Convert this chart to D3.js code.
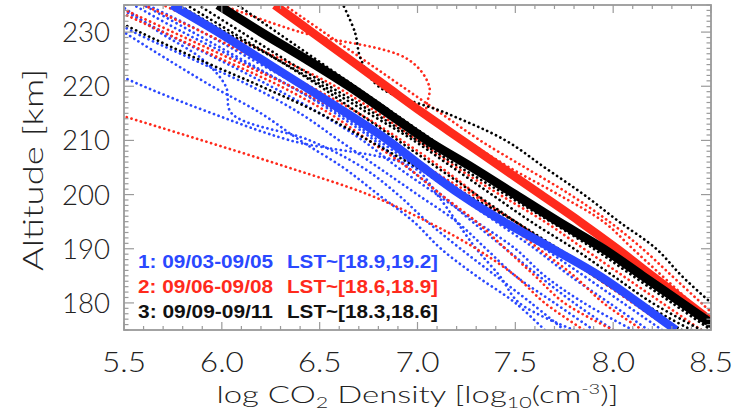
<!DOCTYPE html>
<html><head><meta charset="utf-8">
<script src="https://cdnjs.cloudflare.com/ajax/libs/d3/7.8.5/d3.min.js"></script>
<style>body{margin:0;background:#fff}svg{display:block}</style>
</head><body><svg id="c" width="733" height="417"></svg>
<script>
// ---- data ----
const altitudes = [175,180,185,190,195,200,205,210,215,220,225,230,235];
const xTicks = [5.5,6.0,6.5,7.0,7.5,8.0,8.5];
const yTicks = [180,190,200,210,220,230];
// mean profiles (log10 density at each altitude)
const blueMean  = [8.32,8.13,7.93,7.69,7.44,7.22,7.03,6.85,6.64,6.42,6.20,5.98,5.745];
const redMean   = [8.56,8.38,8.20,8.02,7.83,7.63,7.43,7.23,7.03,6.84,6.65,6.46,6.27];
const blackMean = [8.55,8.35,8.15,7.95,7.72,7.50,7.28,7.05,6.85,6.65,6.43,6.20,5.98];
// individual orbit profiles
const blueOrbits = [
  [7.80,7.52,7.42,7.30,7.20,7.10,6.98,6.35,5.95,5.60,5.30,5.05,4.85],
  [7.90,7.70,7.50,7.35,7.20,7.00,6.80,6.60,6.40,6.15,5.85,5.55,5.30],
  [8.10,7.85,7.65,7.50,7.30,7.10,6.90,6.72,6.50,6.25,5.98,5.70,5.45],
  [8.25,8.05,7.85,7.65,7.45,7.25,7.05,6.85,6.62,6.40,6.15,5.90,5.62],
  [7.75,7.58,7.40,7.22,7.05,6.90,6.72,6.45,6.05,6.02,5.90,5.68,5.48],
  [8.00,7.80,7.62,7.45,7.28,7.12,6.95,6.78,6.58,6.35,6.08,5.80,5.55],
  [8.18,7.98,7.78,7.60,7.40,7.20,7.00,6.80,6.60,6.35,6.10,5.85,5.60],
  [7.65,7.50,7.30,7.12,6.98,6.80,6.62,6.40,6.20,5.95,5.72,5.50,5.30]
];
const redOrbits = [
  [7.85,7.65,7.50,7.30,7.05,6.75,6.34,5.90,5.45,5.00,4.60,4.30,4.00],
  [8.55,8.40,8.25,8.10,7.95,7.72,7.47,7.25,7.05,7.06,6.95,6.40,6.00],
  [8.60,8.45,8.30,8.15,7.98,7.78,7.55,7.32,7.12,6.92,6.72,6.52,6.32],
  [8.45,8.25,8.05,7.85,7.65,7.42,7.20,7.00,6.80,6.58,6.30,6.00,5.70],
  [8.30,8.10,7.90,7.70,7.50,7.28,7.05,6.85,6.62,6.35,6.05,5.75,5.45],
  [8.00,7.75,7.60,7.45,7.30,7.12,6.95,6.75,6.55,6.30,6.00,5.70,5.40],
  [8.15,7.95,7.80,7.62,7.45,7.30,7.12,6.92,6.70,6.45,6.18,5.90,5.60]
];
const blackOrbits = [
  [8.65,8.50,8.35,8.22,8.03,7.85,7.65,7.45,7.15,6.80,6.71,6.68,6.62],
  [8.40,8.15,7.95,7.72,7.50,7.25,7.00,6.75,6.50,6.20,5.88,5.58,5.30],
  [8.50,8.32,8.12,7.92,7.72,7.50,7.28,7.08,6.88,6.68,6.48,6.28,6.08],
  [8.35,8.12,7.90,7.70,7.50,7.30,7.10,6.90,6.70,6.50,6.28,6.05,5.82],
  [8.50,8.30,8.10,7.90,7.68,7.45,7.22,7.00,6.78,6.55,6.32,6.10,5.88],
  [8.45,8.20,8.00,7.80,7.58,7.38,7.18,6.98,6.75,6.52,6.28,6.02,5.78]
];
const legendDates = ["1: 09/03-09/05","2: 09/06-09/08","3: 09/09-09/11"];
const legendLST = ["LST~[18.9,19.2]","LST~[18.6,18.9]","LST~[18.3,18.6]"];
const colors = {blue:"#2a48ff", red:"#ff2a1c", black:"#000000"};

// ---- chart ----
const svg = d3.select("#c");
const L=124, R=711, T=5, B=330;
const x = d3.scaleLinear().domain([5.5,8.5]).range([L,R]);
const y = d3.scaleLinear().domain([175,235]).range([B,T]);

svg.append("clipPath").attr("id","clip").append("rect")
  .attr("x",L).attr("y",T).attr("width",R-L).attr("height",B-T);

const line = d3.line().x(d=>x(d[0])).y(d=>y(d[1])).curve(d3.curveCatmullRom);
const pts = prof => prof.map((v,i)=>[v,altitudes[i]]);
const g = svg.append("g").attr("clip-path","url(#clip)");

function dotted(list,col){
  list.forEach(p=>g.append("path").attr("d",line(pts(p)))
    .attr("fill","none").attr("stroke",col).attr("stroke-width",2.7)
    .attr("stroke-linecap","round").attr("stroke-dasharray","0.1 4.8"));
}
dotted(blueOrbits,colors.blue);
dotted(redOrbits,colors.red);
dotted(blackOrbits,colors.black);
function thick(p,col,w){
  g.append("path").attr("d",line(pts(p))).attr("fill","none")
    .attr("stroke",col).attr("stroke-width",w);
}
thick(redMean,colors.red,8.5);
thick(blueMean,colors.blue,8.5);
thick(blackMean,colors.black,9);

// axes box & ticks
const axCol="#9a9a9a";
const ax = svg.append("g");
ax.append("rect").attr("x",L).attr("y",T).attr("width",R-L).attr("height",B-T)
  .attr("fill","none").attr("stroke",axCol).attr("stroke-width",1.8);
const xMinor = d3.range(55,86).map(v=>v/10);
const yMinor = d3.range(175,236);
xMinor.forEach(v=>{
  const major = Math.abs(v*2-Math.round(v*2))<1e-6;
  const len = major?8:4;
  ax.append("line").attr("x1",x(v)).attr("x2",x(v)).attr("y1",B).attr("y2",B-len).attr("stroke",axCol).attr("stroke-width",1.2);
  ax.append("line").attr("x1",x(v)).attr("x2",x(v)).attr("y1",T).attr("y2",T+len).attr("stroke",axCol).attr("stroke-width",1.2);
});
yMinor.forEach(v=>{
  const major = v%10===0;
  const len = major?10:4.5;
  ax.append("line").attr("y1",y(v)).attr("y2",y(v)).attr("x1",L).attr("x2",L+len).attr("stroke",axCol).attr("stroke-width",1.2);
  ax.append("line").attr("y1",y(v)).attr("y2",y(v)).attr("x1",R).attr("x2",R-len).attr("stroke",axCol).attr("stroke-width",1.2);
});
const font = "Lato, 'DejaVu Sans', sans-serif";
svg.append("g").selectAll("text").data(xTicks).join("text")
  .attr("x",d=>x(d)).attr("y",372).attr("text-anchor","middle")
  .attr("font-family",font).attr("font-weight",300).attr("font-size",27).attr("fill","#222")
  .attr("textLength",44).attr("lengthAdjust","spacingAndGlyphs")
  .text(d=>d.toFixed(1));
svg.append("g").selectAll("text").data(yTicks).join("text")
  .attr("x",110).attr("y",d=>y(d)+10).attr("text-anchor","end")
  .attr("font-family",font).attr("font-weight",300).attr("font-size",27).attr("fill","#222")
  .attr("textLength",48).attr("lengthAdjust","spacingAndGlyphs")
  .text(d=>d);

// axis titles
const xt = svg.append("text").attr("x",(L+R)/2).attr("y",403).attr("text-anchor","middle")
  .attr("font-family",font).attr("font-weight",300).attr("font-size",23).attr("fill","#222")
  .attr("textLength",402).attr("lengthAdjust","spacingAndGlyphs");
xt.append("tspan").text("log CO");
xt.append("tspan").attr("font-size",15).attr("dy",5).text("2");
xt.append("tspan").attr("dy",-5).text(" Density [log");
xt.append("tspan").attr("font-size",15).attr("dy",5).text("10");
xt.append("tspan").attr("dy",-5).text("(cm");
xt.append("tspan").attr("font-size",14).attr("dy",-9).text("-3");
xt.append("tspan").attr("dy",9).text(")]");
svg.append("text").attr("transform",`translate(43,170) rotate(-90)`)
  .attr("text-anchor","middle").attr("font-family",font).attr("font-weight",300).attr("font-size",27).attr("fill","#222")
  .attr("textLength",202).attr("lengthAdjust","spacingAndGlyphs")
  .text("Altitude [km]");

// legend
const legCols=[colors.blue,colors.red,"#111"];
const legY=[268,293,317.5];
legendDates.forEach((t,i)=>{
  svg.append("text").attr("x",138).attr("y",legY[i]).attr("fill",legCols[i])
    .attr("font-family","'Liberation Sans', Arial, sans-serif").attr("font-weight","bold")
    .attr("font-size",19).attr("textLength",135).attr("lengthAdjust","spacingAndGlyphs").text(t);
  svg.append("text").attr("x",287).attr("y",legY[i]).attr("fill",legCols[i])
    .attr("font-family","'Liberation Sans', Arial, sans-serif").attr("font-weight","bold")
    .attr("font-size",19).attr("textLength",151).attr("lengthAdjust","spacingAndGlyphs").text(legendLST[i]);
});
</script></body></html>
